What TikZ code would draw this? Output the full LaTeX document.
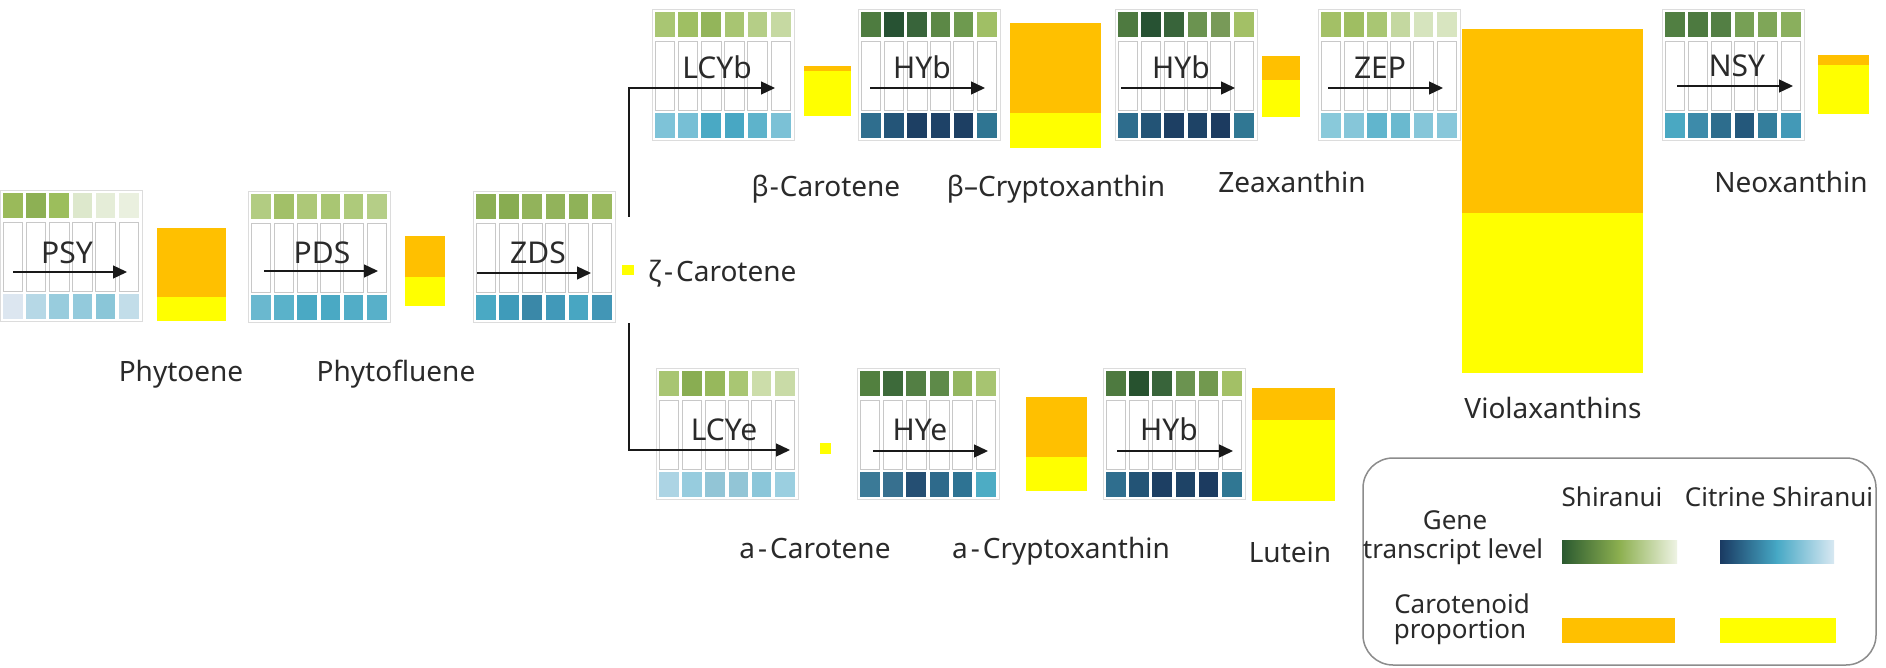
\documentclass[tikz,border=0pt]{standalone}
\usepackage{fontspec}
\setmainfont{Noto Sans}
\usetikzlibrary{arrows.meta}
\definecolor{txt}{HTML}{2A2A2A}
\definecolor{cellline}{HTML}{C8C8C8}
\definecolor{frameline}{HTML}{DCDCDC}
\definecolor{orng}{HTML}{FFC000}
\definecolor{yllw}{HTML}{FFFF00}
\definecolor{gdark}{HTML}{2B5A30}
\definecolor{gmid}{HTML}{8DB050}
\definecolor{glight}{HTML}{EEF3E4}
\definecolor{bdark}{HTML}{1A3A62}
\definecolor{bmid}{HTML}{46A8C5}
\definecolor{blight}{HTML}{D8E8F2}
\tikzset{
  blockframe/.style={draw=frameline, line width=0.8pt, minimum width=142pt, minimum height=131pt, inner sep=0pt},
  genelbl/.style={anchor=base, text=txt, font=\fontsize{30}{32}\selectfont, inner sep=0pt},
  mainlbl/.style={anchor=base, text=txt, font=\fontsize{28}{30}\selectfont, inner sep=0pt},
  leglbl/.style={anchor=base, text=txt, font=\fontsize{26}{28}\selectfont, inner sep=0pt},
  arr/.style={draw=black!90, line width=1.3pt, -{Triangle[length=14pt,width=13pt]}},
}
\newcommand\gblock[4]{%
  \node[blockframe, anchor=north west] (#1) at (#2,#3) {};
  \foreach \g/\b [count=\i from 0] in {#4}{%
    \definecolor{tmpg}{HTML}{\g}\definecolor{tmpb}{HTML}{\b}%
    \fill[tmpg] ({#2+3+23.2*\i},{#3+3}) rectangle ++(19.5,25);
    \draw[cellline, line width=0.8pt] ({#2+3+23.2*\i},{#3+32}) rectangle ++(19.5,69);
    \fill[tmpb] ({#2+3+23.2*\i},{#3+104}) rectangle ++(19.5,25);
  }%
}
\newcommand\glabel[7]{%
  \node[genelbl] (#1-l) at (#3,#4) {#2};
  \coordinate (#1-s) at (#5,#7);
  \coordinate (#1-e) at (#6,#7);
}
\newcommand\pbar[6]{% name x1 y1 x2 y2 split
  \fill[orng] (#2,#3) rectangle (#4,#6);
  \fill[yllw] (#2,#6) rectangle (#4,#5);
  \coordinate (#1) at ({(#2+#4)/2},{(#3+#5)/2});
}
\newcommand\hy{\kern3pt-\kern3pt}
\begin{document}
\begin{tikzpicture}[x=1pt,y=-1pt]
\useasboundingbox (0,0) rectangle (1886,668);
\fill[white] (0,0) rectangle (1886,668);

% ---- gene blocks ----
\gblock{PSY}{0}{190}{9ABA5A/DCE6F0,8DB054/B6D8E6,9CBE5C/98CCDD,DDE8CC/93CADC,E5EDD8/8AC6D8,EAF0DF/C2DDE9}
\gblock{PDS}{248}{191}{B2CC82/6AB8CF,A2C068/5AB2CA,ADC878/4AA9C4,A9C673/4AA9C4,AECA7B/52ADC7,B5CE87/58B0C9}
\gblock{ZDS}{473}{191}{8CAF55/4AA9C4,88AC51/3F9BBA,92B35B/3A88A8,92B35B/4199B9,8FB258/48A6C2,9AB95F/4296B6}
\gblock{LCYb}{652}{9}{A9C673/7EC3D8,9FBF63/77BFD5,93B55A/4AA9C4,A8C572/48A7C3,B5CE87/5EB3CB,C6D9A2/7BC1D6}
\gblock{HYba}{858}{9}{4E7C40/2F6E8E,275233/245578,38643A/1D3F63,5C8846/1E4267,6E9A4F/1D3F63,A0BF65/2F7592}
\gblock{HYbb}{1115}{9}{4E7A40/2E6D8D,275233/235476,38643A/1D3F63,6B9350/1E4366,789A58/1C3B60,A3C066/307793}
\gblock{ZEP}{1318}{9}{A3C066/89C9DA,9FBE62/86C6D9,A9C673/61B5CD,C4D8A0/6AB9CF,D6E4BE/86C6D9,D8E5C0/88C7DA}
\gblock{NSY}{1662}{9}{517F42/4AA8C2,4D7A40/3D8BAA,537F44/2D6D8D,77A055/24587B,7FA658/347E9C,8AAF5D/4399B7}
\gblock{LCYe}{656}{368}{A8C572/ACD4E4,89AD52/97CCDE,97B85C/92C5D6,A9C673/92C5D6,CCDDAA/8BC6D9,C9DBA7/9BCFE0}
\gblock{HYe}{857}{368}{52803F/3B7A97,3D6A3A/37708F,537F44/254F73,5E8A49/2E6A8B,94B660/2E7393,A7C471/4DACC4}
\gblock{HYbc}{1103}{368}{4E7A40/2F6E8E,27522F/235476,38643A/1D3F63,6B9350/1E4366,72994F/1C3B60,A3C066/307793}

% ---- gene labels and arrow ends ----
\glabel{PSY}{PSY}{67}{264}{13}{127}{272}
\glabel{PDS}{PDS}{322}{263}{264}{378}{271}
\glabel{ZDS}{ZDS}{538}{263}{477}{591}{273}
\glabel{LCYb}{LCYb}{717}{79}{629}{775}{88}
\glabel{HYba}{HYb}{922}{79}{870}{985}{88}
\glabel{HYbb}{HYb}{1181}{79}{1121}{1235}{88}
\glabel{ZEP}{ZEP}{1380}{79}{1328}{1443}{88}
\glabel{NSY}{NSY}{1737}{77}{1677}{1793}{86}
\glabel{LCYe}{LCYe}{724}{440}{629}{790}{450}
\glabel{HYe}{HYe}{920}{440}{873}{988}{451}
\glabel{HYbc}{HYb}{1169}{440}{1117}{1233}{451}

\foreach \n in {PSY,PDS,ZDS,HYba,HYbb,ZEP,NSY,HYe,HYbc}{\draw[arr] (\n-s) -- (\n-e);}

% ---- branch ----
\coordinate (brtop) at (629,217);
\coordinate (brbot) at (629,323);
\draw[arr] (brtop) |- (LCYb-e);
\draw[arr] (brbot) |- (LCYe-e);

% ---- product bars ----
\pbar{phy}{157}{228}{226}{321}{297}
\pbar{phf}{405}{236}{445}{306}{277}
\fill[yllw] (622,265) rectangle (634,275); \coordinate (zc) at (628,270);
\pbar{bc}{804}{66}{851}{116}{71}
\pbar{bcx}{1010}{23}{1101}{148}{113}
\pbar{zea}{1262}{56}{1300}{117}{80}
\pbar{vio}{1462}{29}{1643}{373}{213}
\pbar{neo}{1818}{55}{1869}{114}{65}
\fill[yllw] (820,443) rectangle (831,454); \coordinate (ac) at (825,448);
\pbar{acx}{1026}{397}{1087}{491}{457}
\pbar{lut}{1252}{388}{1335}{501}{420}

% ---- product labels ----
\node[mainlbl] (lphy) at (181,381) {Phytoene};
\node[mainlbl] (lphf) at (396,381) {Phytofluene};
\node[mainlbl, anchor=base west] (lzc) at (648,281) {ζ\hy Carotene};
\node[mainlbl] (lbc) at (826,197) {β\kern1pt-\kern1pt Carotene};
\node[mainlbl] (lbcx) at (1056,197) {β–Cryptoxanthin};
\node[mainlbl] (lzea) at (1292,193) {Zeaxanthin};
\node[mainlbl] (lneo) at (1791,193) {Neoxanthin};
\node[mainlbl] (lvio) at (1553,418) {Violaxanthins};
\node[mainlbl] (lac) at (815,558) {a\hy Carotene};
\node[mainlbl] (lacx) at (1061,558) {a\hy Cryptoxanthin};
\node[mainlbl] (llut) at (1290,562) {Lutein};

% ---- legend ----
\draw[draw=black!45, line width=1.5pt, rounded corners=30pt] (1363,458) rectangle (1876,665);
\node[leglbl] (lsh) at (1612,506) {Shiranui};
\node[leglbl] (lcs) at (1779,506) {Citrine Shiranui};
\node[leglbl] (lg1) at (1455,529) {Gene};
\node[leglbl] (lg2) at (1453,558) {transcript level};
\node[leglbl] (lc1) at (1462,613) {Carotenoid};
\node[leglbl] (lc2) at (1460,638) {proportion};
\shade[left color=gdark, right color=gmid] (1562,540) rectangle (1620,563);
\shade[left color=gmid, right color=glight] (1619.5,540) rectangle (1677,563);
\shade[left color=bdark, right color=bmid] (1720,540) rectangle (1777,563);
\shade[left color=bmid, right color=blight] (1776.5,540) rectangle (1834,563);
\fill[orng] (1562,618) rectangle (1675,643);
\fill[yllw] (1720,618) rectangle (1836,643);
\end{tikzpicture}
\end{document}
